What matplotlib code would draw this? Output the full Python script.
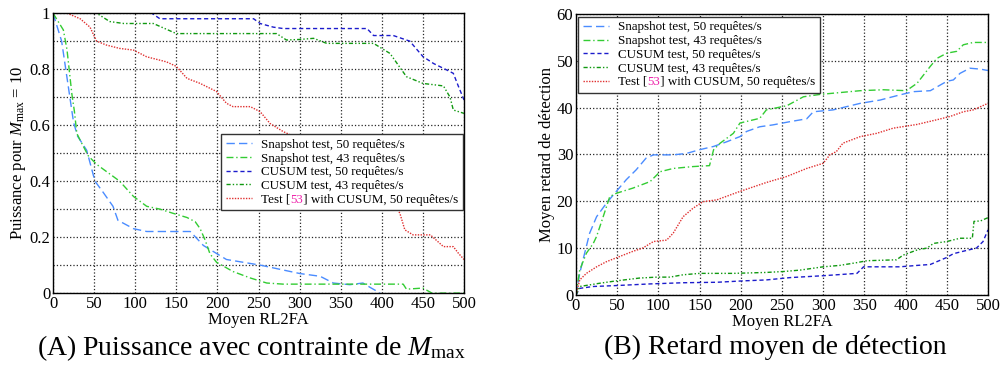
#! /usr/bin/env python

import numpy as np
import matplotlib
matplotlib.use('Agg')
import matplotlib.pyplot as plt
from matplotlib.ticker import MultipleLocator
from matplotlib.transforms import IdentityTransform

plt.rcParams['font.family'] = ['Liberation Serif', 'DejaVu Serif']
plt.rcParams['mathtext.fontset'] = 'custom'
plt.rcParams['mathtext.rm'] = 'Liberation Serif'
plt.rcParams['mathtext.it'] = 'Liberation Serif:italic'

# --- (A) puissance ---------------------------------------------------------
snap50_x = [0, 10.5, 21, 25, 30, 41, 51, 61, 73, 79, 98, 114, 167, 183, 211,
            252, 300, 325, 341, 361, 377, 386, 398]
snap50_y = [1.0, 0.90, 0.69, 0.61, 0.56, 0.51, 0.40, 0.36, 0.31, 0.26, 0.23,
            0.22, 0.22, 0.17, 0.12, 0.10, 0.07, 0.06, 0.036, 0.03, 0.036,
            0.02, 0.0]

snap43_x = [0, 12.6, 17, 23, 26, 29, 35, 43, 53, 81, 98, 114, 130, 146, 163,
            173, 179, 185, 191, 199, 219, 240, 260, 280, 341, 381, 426, 430,
            450, 461, 500]
snap43_y = [1.0, 0.94, 0.87, 0.71, 0.65, 0.57, 0.535, 0.49, 0.46, 0.40, 0.345,
            0.31, 0.30, 0.285, 0.27, 0.255, 0.23, 0.19, 0.14, 0.11, 0.077,
            0.054, 0.036, 0.032, 0.032, 0.032, 0.032, 0.014, 0.018, 0.0, 0.0]

cusum50_x = [0, 120, 130, 244, 252, 268, 280, 382, 390, 414, 434, 450, 463,
             479, 487, 493, 500]
cusum50_y = [1.0, 1.0, 0.98, 0.98, 0.963, 0.95, 0.945, 0.945, 0.92, 0.92,
             0.90, 0.845, 0.82, 0.797, 0.785, 0.74, 0.69]

cusum43_x = [0, 53, 69, 86, 122, 150, 272, 284, 300, 317, 333, 390, 410, 430,
             450, 475, 483, 487, 500]
cusum43_y = [1.0, 1.0, 0.97, 0.963, 0.963, 0.927, 0.927, 0.904, 0.906, 0.91,
             0.892, 0.892, 0.856, 0.773, 0.749, 0.74, 0.70, 0.654, 0.642]

ref53_x = [0, 17, 33, 45, 53, 65, 81, 98, 114, 138, 150, 163, 179, 199, 211,
           219, 240, 252, 264, 280, 300, 350, 400, 415, 422, 428, 438, 459,
           475, 487, 493, 500]
ref53_y = [1.0, 1.0, 0.98, 0.95, 0.90, 0.886, 0.874, 0.868, 0.844, 0.826,
           0.81, 0.767, 0.749, 0.72, 0.678, 0.666, 0.666, 0.648, 0.606, 0.577,
           0.55, 0.47, 0.36, 0.32, 0.285, 0.226, 0.208, 0.208, 0.166, 0.166,
           0.143, 0.12]

# --- (B) retard moyen --------------------------------------------------------
d_snap50_x = [0, 4.5, 10.5, 16.6, 25, 37, 47, 61, 73, 85, 94, 118, 134, 150,
              167, 183, 199, 207, 223, 239, 260, 280, 288, 312, 345, 369, 393,
              410, 430, 450, 458, 466, 478, 491, 500]
d_snap50_y = [0, 4.6, 8.9, 13.2, 16.7, 19.6, 21.7, 24.6, 26.7, 29.2, 29.9,
              29.9, 30.2, 31.0, 31.7, 32.7, 33.8, 34.9, 35.9, 36.3, 37.0, 37.6,
              39.1, 39.5, 40.9, 41.6, 42.7, 43.4, 43.6, 45.6, 45.9, 47.3, 48.4,
              48.2, 47.9]

d_snap43_x = [0, 4.5, 12.6, 21, 25, 33, 41, 49, 69, 90, 102, 118, 142, 162,
              167, 175, 191, 199, 223, 231, 256, 276, 296, 345, 373, 401, 414,
              430, 438, 450, 462, 470, 482, 500]
d_snap43_y = [0, 5.3, 8.9, 11.0, 12.5, 16.7, 21.0, 21.7, 22.8, 24.2, 26.3,
              27.0, 27.4, 27.6, 31.0, 32.4, 34.5, 36.7, 37.7, 39.5, 40.4, 42.3,
              42.8, 43.6, 43.8, 43.6, 45.2, 48.8, 50.5, 51.6, 52.0, 53.4, 53.9,
              53.9]

d_cusum50_x = [0, 4.5, 21, 49, 90, 130, 171, 203, 231, 260, 300, 341, 349,
               393, 414, 430, 438, 450, 458, 474, 486, 494, 500]
d_cusum50_y = [0, 1.4, 1.8, 2.0, 2.35, 2.6, 2.7, 3.0, 3.2, 3.7, 4.1, 4.6, 6.0,
               6.0, 6.3, 6.5, 7.1, 8.0, 8.8, 9.5, 10.0, 11.4, 13.9]

d_cusum43_x = [0, 4.5, 29, 49, 77, 98, 114, 130, 150, 191, 231, 252, 272, 300,
               320, 341, 353, 389, 397, 414, 426, 434, 450, 466, 481, 483, 491,
               500]
d_cusum43_y = [0, 1.8, 2.5, 3.0, 3.6, 3.8, 3.8, 4.3, 4.6, 4.6, 4.8, 5.0, 5.3,
               6.0, 6.3, 6.9, 7.3, 7.5, 8.5, 9.6, 10.0, 11.0, 11.4, 12.1, 12.1,
               15.7, 15.8, 16.5]

d_ref53_x = [0, 4.5, 12.6, 25, 37, 53, 69, 81, 94, 110, 118, 130, 142, 154,
             171, 199, 231, 256, 280, 300, 308, 316, 324, 345, 365, 385, 414,
             438, 454, 470, 482, 500]
d_ref53_y = [0, 3.2, 4.6, 6.0, 7.1, 8.2, 9.3, 10.0, 11.4, 11.7, 13.2, 16.7,
             18.5, 19.9, 20.3, 22.1, 24.0, 25.3, 27.0, 28.1, 29.9, 30.6, 32.4,
             33.8, 34.5, 35.6, 36.4, 37.4, 38.1, 39.1, 39.5, 40.9]

# the reference number "53" of the last label is drawn apart, in magenta
labels = ['Snapshot test, 50 requêtes/s',
          'Snapshot test, 43 requêtes/s',
          'CUSUM test, 50 requêtes/s',
          'CUSUM test, 43 requêtes/s',
          'Test [\u2007\u2007] with CUSUM, 50 requêtes/s']
cite = '53'

styles = [dict(color='#4a8cff', ls=(0, (6, 3)), lw=1.0),
          dict(color='#33cc33', ls=(0, (5, 2, 1, 2)), lw=1.0),
          dict(color='#1c1ccc', ls=(0, (3, 2)), lw=1.0),
          dict(color='#119911', ls=(0, (3, 1.5, 1, 1.5, 1, 1.5)), lw=1.0),
          dict(color='#e03030', ls=(0, (1, 1)), lw=1.0)]


def style_axes(ax, ymax, ystep):
    ax.set_xlim(0, 500)
    ax.set_ylim(0, ymax)
    ax.xaxis.set_major_locator(MultipleLocator(50))
    ax.yaxis.set_major_locator(MultipleLocator(ystep))
    ax.grid(True, which='major', color='0.15', ls=':', lw=0.9)
    ax.tick_params(direction='in', length=0, labelsize=12)
    ax.tick_params(axis='x', pad=2)
    ax.tick_params(axis='y', pad=2)
    for sp in ax.spines.values():
        sp.set_linewidth(1.0)
    ax.set_xlabel('Moyen RL2FA', fontsize=12, labelpad=0)


def make_legend(ax, **kw):
    leg = ax.legend(fontsize=9.4, frameon=True, fancybox=False, edgecolor='0.2',
                    framealpha=1, handlelength=2.0, handletextpad=0.7,
                    borderpad=0.35, labelspacing=0.12, borderaxespad=0, **kw)
    leg.get_frame().set_linewidth(1.0)
    return leg


fig = plt.figure(figsize=(10, 3.65), dpi=100)

ax1 = fig.add_axes([0.053, 0.197, 0.411, 0.767])
series_a = [(snap50_x, snap50_y), (snap43_x, snap43_y), (cusum50_x, cusum50_y),
            (cusum43_x, cusum43_y), (ref53_x, ref53_y)]
for (x, y), lab, st in zip(series_a, labels, styles):
    ax1.plot(x, y, label=lab, **st)
style_axes(ax1, 1, 0.1)
ax1.set_yticks(np.arange(0, 1.01, 0.1))
ax1.set_yticklabels(['0', '', '0.2', '', '0.4', '', '0.6', '', '0.8', '', '1'])
ax1.set_ylabel('Puissance pour $M_{\\mathregular{max}}$ = 10', fontsize=12,
               labelpad=1)
leg1 = make_legend(ax1, loc='lower right', bbox_to_anchor=(0.997, 0.296))

ax2 = fig.add_axes([0.576, 0.192, 0.412, 0.770])
series_b = [(d_snap50_x, d_snap50_y), (d_snap43_x, d_snap43_y),
            (d_cusum50_x, d_cusum50_y), (d_cusum43_x, d_cusum43_y),
            (d_ref53_x, d_ref53_y)]
for (x, y), lab, st in zip(series_b, labels, styles):
    ax2.plot(x, y, label=lab, **st)
style_axes(ax2, 60, 10)
ax2.set_ylabel('Moyen retard de détection', fontsize=12, labelpad=1)
leg2 = make_legend(ax2, loc='upper left', bbox_to_anchor=(0.006, 0.99))

fig.text(0.251, 0.047, '(A) Puissance avec contrainte de $M_{\\mathregular{max}}$',
         fontsize=20, ha='center', va='center')
fig.text(0.775, 0.047, '(B) Retard moyen de détection', fontsize=20,
         ha='center', va='center')

# put the magenta citation number into the gap left in the legend label
fig.canvas.draw()
renderer = fig.canvas.get_renderer()
for leg in (leg1, leg2):
    t = leg.get_texts()[4]
    bb = t.get_window_extent(renderer)
    tmp = fig.text(0, 0, 'Test [', fontproperties=t.get_fontproperties())
    w = tmp.get_window_extent(renderer).width
    tmp.remove()
    fig.text(bb.x0 + w, bb.y0, cite, fontproperties=t.get_fontproperties(),
             color='#ee22aa', ha='left', va='bottom',
             transform=IdentityTransform(), zorder=10)

fig.savefig('out.png', dpi=100)
